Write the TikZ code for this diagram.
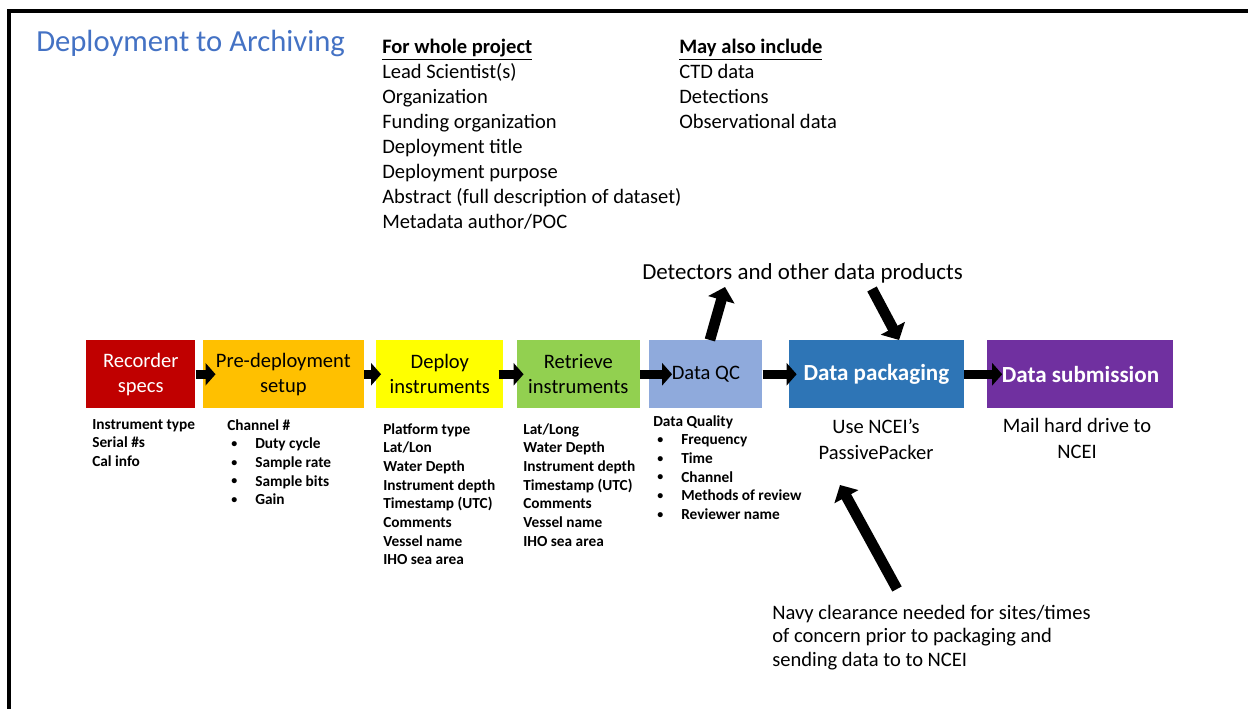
\documentclass[tikz,border=0pt]{standalone}
\usepackage{fontspec}
\setmainfont{Carlito}
\usetikzlibrary{arrows.meta,positioning}

\definecolor{recred}{HTML}{C00000}
\definecolor{preorange}{HTML}{FFC000}
\definecolor{depyellow}{HTML}{FFFF00}
\definecolor{retgreen}{HTML}{92D050}
\definecolor{qcblue}{HTML}{8FAADC}
\definecolor{packblue}{HTML}{2E75B6}
\definecolor{subpurple}{HTML}{7030A0}
\definecolor{titleblue}{HTML}{4472C4}

\newcommand{\itm}{\makebox[21pt][l]{\hspace{3pt}\raisebox{1pt}{\fontsize{9}{9}\selectfont\textbullet}}}

\begin{document}
\begin{tikzpicture}[x=0.75pt,y=-0.75pt,
    box/.style={minimum height=51pt,inner sep=1pt,align=center,font=\fontsize{15.4}{18.75}\selectfont},
    boldbox/.style={box,text=white,font=\fontsize{17.3}{20}\selectfont\bfseries},
    flow/.style={line width=6.5pt,-{Triangle[length=7.5pt,width=16.5pt]}},
    slant/.style={line width=8pt,-{Triangle[length=10pt,width=20pt]}},
    info/.style={anchor=north west,inner sep=0pt,align=left,font=\fontsize{11.5}{14}\selectfont\bfseries},
    note/.style={inner sep=0pt,font=\fontsize{15.4}{18.7}\selectfont}]
    \useasboundingbox (0,0) rectangle (1248,709);
    \draw[line width=2.3pt] (1248,11) -- (9,11) -- (9,709);

    \node[anchor=base west,inner sep=0pt,text=titleblue,font=\fontsize{23}{27}\selectfont] (title) at (36,52) {Deployment to Archiving};

    \node[note,anchor=north west,align=left] (whole) at (382,39) {\textbf{\underline{For whole project}}\\Lead Scientist(s)\\Organization\\Funding organization\\Deployment title\\Deployment purpose\\Abstract (full description of dataset)\\Metadata author/POC};
    \node[note,anchor=north west,align=left] (extra) at (679,39) {\textbf{\underline{May also include}}\\CTD data\\Detections\\Observational data};

    % process chain
    \node[box,fill=recred,text=white,minimum width=81.75pt,anchor=north west] (rec) at (86,340) {Recorder\\specs};
    \node[box,fill=preorange,minimum width=120.75pt] (pre) [right=5.25pt of rec] {Pre-deployment\\setup};
    \node[box,fill=depyellow,minimum width=95.25pt] (dep) [right=9pt of pre] {Deploy\\instruments};
    \node[box,fill=retgreen,minimum width=92.25pt] (ret) [right=9.75pt of dep] {Retrieve\\instruments};
    \node[box,fill=qcblue,minimum width=84.75pt] (qc) [right=6.75pt of ret] {Data QC};
    \node[boldbox,fill=packblue,minimum width=131.25pt] (pack) [right=19.5pt of qc] {Data packaging};
    \node[boldbox,fill=subpurple,minimum width=139.5pt] (sub) [right=17.25pt of pack] {Data submission};

    \draw[flow,shorten >=-9.75pt] (rec) -- (pre);
    \draw[flow,shorten >=-3.75pt] (pre) -- (dep);
    \draw[flow,shorten <=-3.75pt,shorten >=-5.25pt] (dep) -- (ret);
    \draw[flow,shorten >=-17.25pt] (ret) -- (qc);
    \draw[flow,shorten >=-6pt] (qc) -- (pack);
    \draw[flow,shorten >=-11.25pt] (pack) -- (sub);

    % details under the boxes
    \node[info] (recinfo) at (92,419) {Instrument type\\Serial \#s\\Cal info};
    \node[info] (preinfo) at (227,419) {Channel \#\\\itm Duty cycle\\\itm Sample rate\\\itm Sample bits\\\itm Gain};
    \node[info] (depinfo) at (383,423) {Platform type\\Lat/Lon\\Water Depth\\Instrument depth\\Timestamp (UTC)\\Comments\\Vessel name\\IHO sea area};
    \node[info] (retinfo) at (523,423) {Lat/Long\\Water Depth\\Instrument depth\\Timestamp (UTC)\\Comments\\Vessel name\\IHO sea area};
    \node[info] (qcinfo) at (653,415) {Data Quality\\\itm Frequency\\\itm Time\\\itm Channel\\\itm Methods of review\\\itm Reviewer name};
    \node[note,anchor=north,align=center,font=\fontsize{15.4}{19.5}\selectfont] (packinfo) at (876,419) {Use NCEI’s\\PassivePacker};
    \node[note,anchor=north,align=center,font=\fontsize{15.4}{19.5}\selectfont] (subinfo) at (1077,418) {Mail hard drive to\\NCEI};

    \node[anchor=base west,inner sep=0pt,font=\fontsize{17.2}{20}\selectfont] (prod) at (642,279) {Detectors and other data products};
    \node[note,anchor=north west,align=left,font=\fontsize{15.4}{17.6}\selectfont] (navy) at (772,605) {Navy clearance needed for sites/times\\of concern prior to packaging and\\sending data to to NCEI};

    \coordinate (up) at (725,287);
    \coordinate (down) at (872,289);
    \coordinate (clear) at (897,589);
    \coordinate (clearend) at (840,485);
    \draw[slant] ([xshift=3pt]qc.north) -- (up);
    \draw[slant] (down) -- ([xshift=17pt]pack.north);
    \draw[slant] (clear) -- (clearend);
\end{tikzpicture}
\end{document}
